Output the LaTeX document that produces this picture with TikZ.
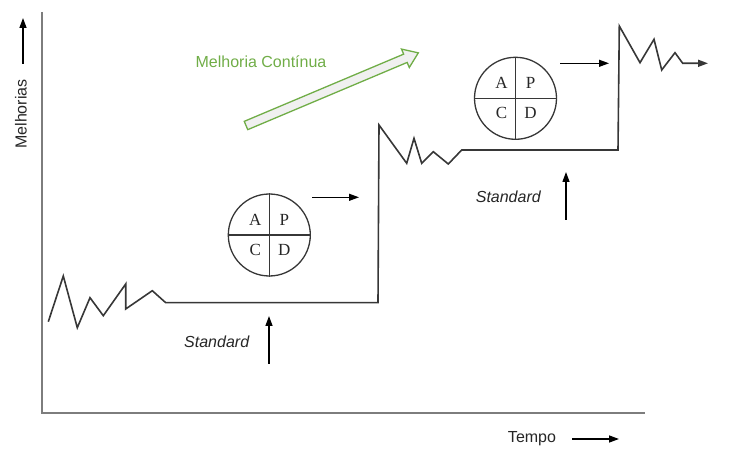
\documentclass[tikz,border=0pt]{standalone}
\usepackage{fontspec}
\setmainfont{Liberation Sans}
\newfontfamily\seriffont{Liberation Serif}
\usetikzlibrary{arrows.meta,calc}
\definecolor{axisgray}{RGB}{125,125,125}
\definecolor{linegray}{RGB}{55,55,55}
\definecolor{mgreen}{RGB}{112,173,71}
\begin{document}
\begin{tikzpicture}[x=1pt,y=-1pt,
  axis/.style={draw=axisgray,line width=1.5pt},
  curve/.style={draw=linegray,line width=1.6pt,line join=miter},
  harrow/.style={draw=black,line width=1.3pt,-{Triangle[length=10pt,width=7pt]}},
  lbl/.style={font=\fontsize{16}{16}\selectfont,text=black!85,inner sep=0pt},
  slbl/.style={lbl,font=\itshape\fontsize{16}{16}\selectfont},
  pdca/.style={circle,draw=linegray,line width=1.3pt,minimum size=82pt,inner sep=0pt},
  letter/.style={font=\seriffont\fontsize{17}{17}\selectfont,text=black!85,inner sep=0pt}]
\useasboundingbox (0,0) rectangle (742,454);

% axes
\coordinate (ytop) at (42,12);
\coordinate (orig) at (42,413);
\coordinate (xend) at (645,413);
\draw[axis] (ytop) -- (orig) -- (xend);

% axis labels
\node[lbl,rotate=90] (melh) at (21,114) {Melhorias};
\coordinate (ma0) at (23,64);
\coordinate (ma1) at (23,18);
\draw[harrow] (ma0) -- (ma1);
\node[lbl] (tempo) at (532,439) {Tempo};
\coordinate (ta0) at (572,439);
\coordinate (ta1) at (619,439);
\draw[harrow] (ta0) -- (ta1);

% improvement curve
\coordinate (cend) at (708,63.3);
\draw[curve,-{Triangle[length=10pt,width=7pt]}]
  (48.3,321.7) -- (63.3,276) -- (77.3,327.7) -- (90,297.7) -- (103.3,315.7)
  -- (125.7,284) -- (125.7,309) -- (152.3,290.7) -- (165.7,302.7)
  -- (378,302.7) -- (379,125) -- (406.7,163.3) -- (414,138.3) -- (421.7,163.3)
  -- (433.3,151.7) -- (448.3,164) -- (461.7,150) -- (618,150)
  -- (619.3,26) -- (640,62.7) -- (654,39.3) -- (661.7,70) -- (675,52.7)
  -- (682.7,63.3) -- (cend);

% PDCA 1
\node[pdca] (c1) at (269.3,235) {};
\draw[linegray,line width=1.3pt] (c1.north) -- (c1.south) (c1.west) -- (c1.east);
\node[letter] (a1) at ($(c1)+(-14,-15)$) {A};
\node[letter] (p1) at ($(c1)+(15,-15)$) {P};
\node[letter] (cc1) at ($(c1)+(-14,15)$) {C};
\node[letter] (d1) at ($(c1)+(15,15)$) {D};
\coordinate (pa0) at (312,197.3);
\coordinate (pa1) at (359,197.3);
\draw[harrow] (pa0) -- (pa1);

% PDCA 2
\node[pdca] (c2) at (515.5,98.3) {};
\draw[linegray,line width=1.3pt] (c2.north) -- (c2.south) (c2.west) -- (c2.east);
\node[letter] (a2) at ($(c2)+(-14,-15)$) {A};
\node[letter] (p2) at ($(c2)+(15,-15)$) {P};
\node[letter] (cc2) at ($(c2)+(-14,15)$) {C};
\node[letter] (d2) at ($(c2)+(15,15)$) {D};
\coordinate (pb0) at (560,63.3);
\coordinate (pb1) at (609,63.3);
\draw[harrow] (pb0) -- (pb1);

% Standard labels
\node[slbl] (std1) at (216.7,342) {Standard};
\coordinate (sa0) at (269,364);
\coordinate (sa1) at (269,316);
\draw[harrow] (sa0) -- (sa1);
\node[slbl] (std2) at (508.3,197) {Standard};
\coordinate (sb0) at (566,220);
\coordinate (sb1) at (566,172);
\draw[harrow] (sb0) -- (sb1);

% Melhoria Continua
\node[lbl,text=mgreen] (mc) at (261,62) {Melhoria Contínua};
\begin{scope}[shift={(246,125.5)},rotate=22.86]
  \draw[draw=mgreen,fill=black!6,line width=1.3pt,line join=miter]
    (0,-4.5) -- (173,-4.5) -- (173,-10) -- (187,0) -- (173,10) -- (173,4.5) -- (0,4.5) -- cycle;
\end{scope}
\end{tikzpicture}
\end{document}
